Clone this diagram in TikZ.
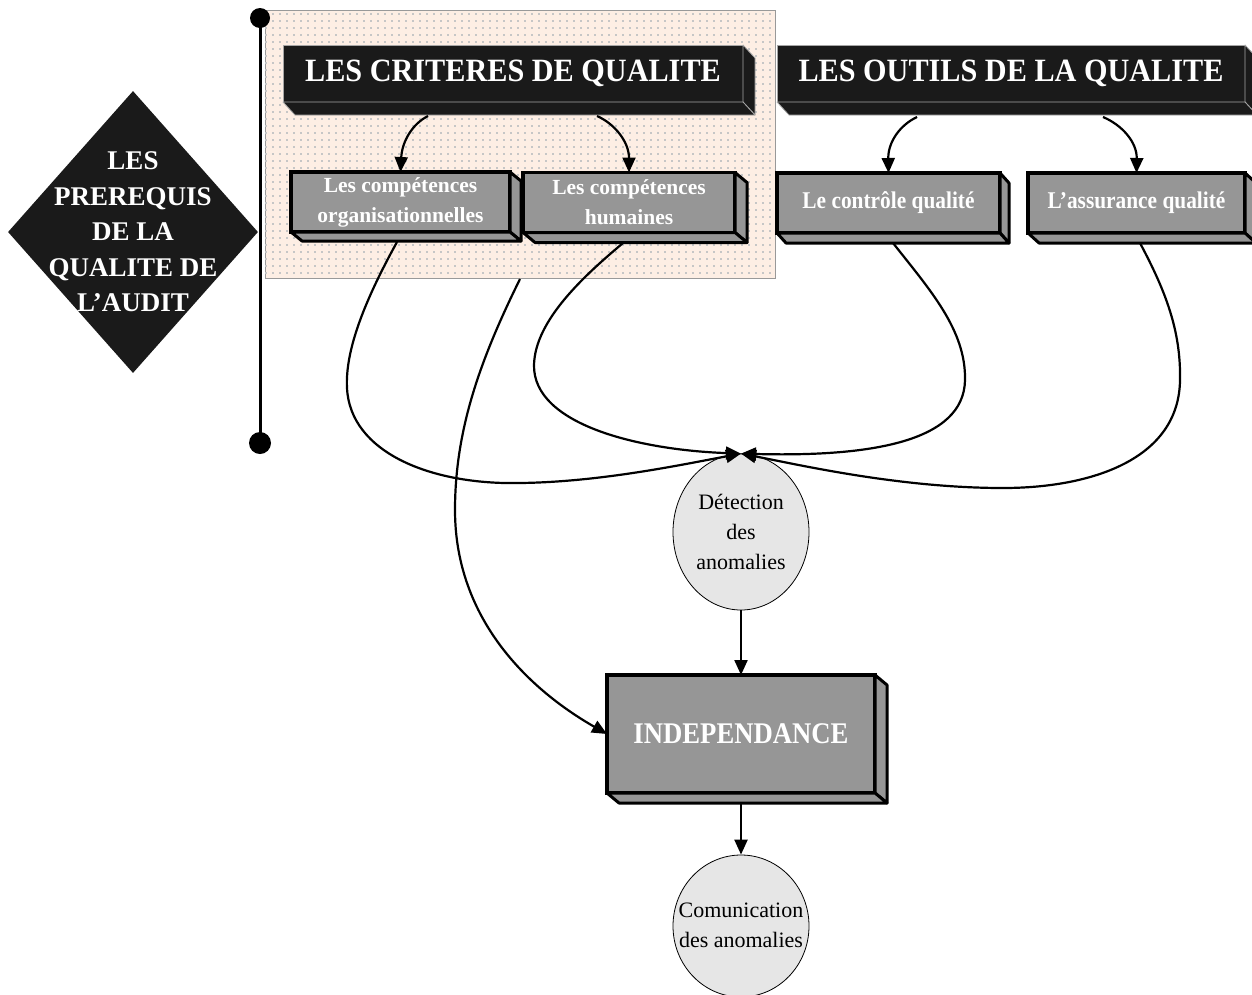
\documentclass[tikz,border=0pt]{standalone}
\usepackage{fontspec}
\setmainfont{Liberation Serif}
\newfontfamily\condA[FakeStretch=0.93]{Liberation Serif}
\newfontfamily\condB[FakeStretch=0.89]{Liberation Serif}
\usetikzlibrary{calc,arrows.meta,patterns.meta,shapes.geometric}

\definecolor{peach}{HTML}{FDEEE4}
\definecolor{boxgrey}{HTML}{969696}
\definecolor{nearblack}{HTML}{1A1A1A}
\definecolor{circgrey}{HTML}{E6E6E6}

\tikzdeclarepattern{
  name=peachdots,
  type=uncolored,
  bounding box={(-3.5pt,-3.5pt) and (3.5pt,3.5pt)},
  tile size={(7pt,7pt)},
  code={\fill (-0.8pt,-0.8pt) rectangle (0.8pt,0.8pt);}
}

\newcommand\dthreeface[4]{%
  \filldraw[#4] (#1.north east) -- ++(#2,#3) -- ($(#1.south east)+(#2,#3)$) -- (#1.south east) -- cycle;
  \filldraw[#4] (#1.south west) -- ($(#1.south west)+(#2,#3)$) -- ($(#1.south east)+(#2,#3)$) -- (#1.south east) -- cycle;
}

\tikzset{
  header/.style={fill=nearblack, draw=gray!70, line width=0.8pt, inner sep=0pt, outer sep=0pt,
    text=white, font=\condA\bfseries\fontsize{32.5}{37}\selectfont},
  headerside/.style={fill=nearblack, draw=gray!70, line width=0.8pt, line join=round},
  greybox/.style={fill=boxgrey, draw=black, line width=3.5pt, inner sep=0pt, outer sep=0pt,
    text=white, align=center, font=\bfseries\fontsize{21.5}{30}\selectfont},
  greyside/.style={fill=boxgrey, draw=black, line width=3pt, line join=round},
  bubble/.style={ellipse, fill=circgrey, draw=black, line width=0.8pt, inner sep=0pt},
  bubbletext/.style={align=center, font=\fontsize{22}{30}\selectfont},
  conn/.style={line width=2.2pt},
  arr/.style={conn, -{Triangle[length=15pt,width=13pt]}},
}

\begin{document}
\begin{tikzpicture}[x=1pt,y=-1pt]
\useasboundingbox (0,0) rectangle (1252,994);

% background zone
\node[draw=gray!80, line width=0.8pt, fill=peach, minimum width=510pt, minimum height=268pt,
      inner sep=0pt, outer sep=0pt] (zone) at (520,144) {};
\fill[pattern=peachdots, pattern color=gray!45] (zone.south west) rectangle (zone.north east);

% vertical bar
\coordinate (vtop) at (260,18);
\coordinate (vbot) at (260,443);
\draw[line width=3pt] (vtop) -- (vbot);
\fill (vtop) circle (10pt);
\fill (vbot) circle (11pt);

% diamond
\node[diamond, fill=nearblack, minimum width=250pt, minimum height=282pt, inner sep=0pt] (prereq) at (133,232) {};
\node[text=white, align=center, font=\bfseries\fontsize{27}{35.5}\selectfont] (prereqtext) at (133,232)
  {LES\\PREREQUIS\\DE LA\\QUALITE DE\\L’AUDIT};

% headers
\node[header, minimum width=460pt, minimum height=57pt] (crit) at (513,73.5) {LES CRITERES DE QUALITE};
\dthreeface{crit}{12}{13}{headerside}
\node[header, minimum width=468pt, minimum height=57pt] (outils) at (1011,73.5) {LES OUTILS DE LA QUALITE};
\dthreeface{outils}{12}{13}{headerside}

% grey boxes
\node[greybox, minimum width=219pt, minimum height=60pt] (org) at (400.5,202) {\raisebox{0pt}[0pt][0pt]{}Les compétences\\organisationnelles};
\dthreeface{org}{11}{9}{greyside}
\node[greybox, minimum width=212pt, minimum height=60pt] (hum) at (629,202.5) {Les compétences\\humaines};
\dthreeface{hum}{12}{10}{greyside}
\node[greybox, minimum width=223pt, minimum height=60pt, font=\condB\bfseries\fontsize{24}{30}\selectfont] (ctrl) at (888.5,203) {Le contrôle qualité};
\dthreeface{ctrl}{9}{10}{greyside}
\node[greybox, minimum width=217pt, minimum height=60pt, font=\condB\bfseries\fontsize{24}{30}\selectfont] (assur) at (1136.5,203) {L’assurance qualité};
\dthreeface{assur}{11}{10}{greyside}

% detection, independance, communication
\node[bubble, minimum width=136pt, minimum height=156pt] (det) at (741,532) {};
\node[bubbletext] (dettext) at (741,532) {Détection\\des\\anomalies};
\node[greybox, minimum width=268pt, minimum height=118pt, font=\condB\bfseries\fontsize{30}{30}\selectfont] (indep) at (741,734) {INDEPENDANCE};
\dthreeface{indep}{12}{10}{greyside}
\node[bubble, minimum width=136pt, minimum height=142pt] (comm) at (741,926) {};
\node[bubbletext] (commtext) at (741,925) {Comunication\\des anomalies};

% header -> boxes
\coordinate (c1) at (428,116);
\coordinate (c2) at (597,116);
\coordinate (c3) at (917,117);
\coordinate (c4) at (1103,117);
\draw[arr] (c1) .. controls (412,124) and (402,142) .. (org.north);
\draw[arr] (c2) .. controls (615,124) and (629,142) .. (hum.north);
\draw[arr] (c3) .. controls (900,125) and (888,142) .. (ctrl.north);
\draw[arr] (c4) .. controls (1122,125) and (1137,142) .. (assur.north);

% boxes -> detection
\coordinate (sa) at (397,242);
\coordinate (sb) at (623,243);
\coordinate (sc) at (893,243);
\coordinate (sd) at (1140,243);
\draw[arr] (sa) .. controls (365,300) and (345,350) .. (347,388)
  .. controls (350,452) and (430,485) .. (520,483)
  .. controls (600,482) and (680,465) .. (det.north);
\draw[arr] (sb) .. controls (585,275) and (535,320) .. (534,365)
  .. controls (533,425) and (640,450) .. (det.north);
\draw[arr] (sc) .. controls (930,290) and (966,330) .. (965,380)
  .. controls (964,442) and (870,457) .. (det.north);
\draw[arr] (sd) .. controls (1165,290) and (1181,330) .. (1180,380)
  .. controls (1179,460) and (1090,488) .. (1003,488)
  .. controls (900,488) and (800,465) .. (det.north);

% zone -> independance
\coordinate (se) at (520,279);
\draw[arr] (se) .. controls (480,360) and (455,430) .. (455,510)
  .. controls (455,620) and (530,690) .. (indep.west);

% vertical chain
\coordinate (indepbottom) at (741,803);
\draw[arr] (det.south) -- (indep.north);
\draw[arr] (indepbottom) -- (comm.north);
\end{tikzpicture}
\end{document}
